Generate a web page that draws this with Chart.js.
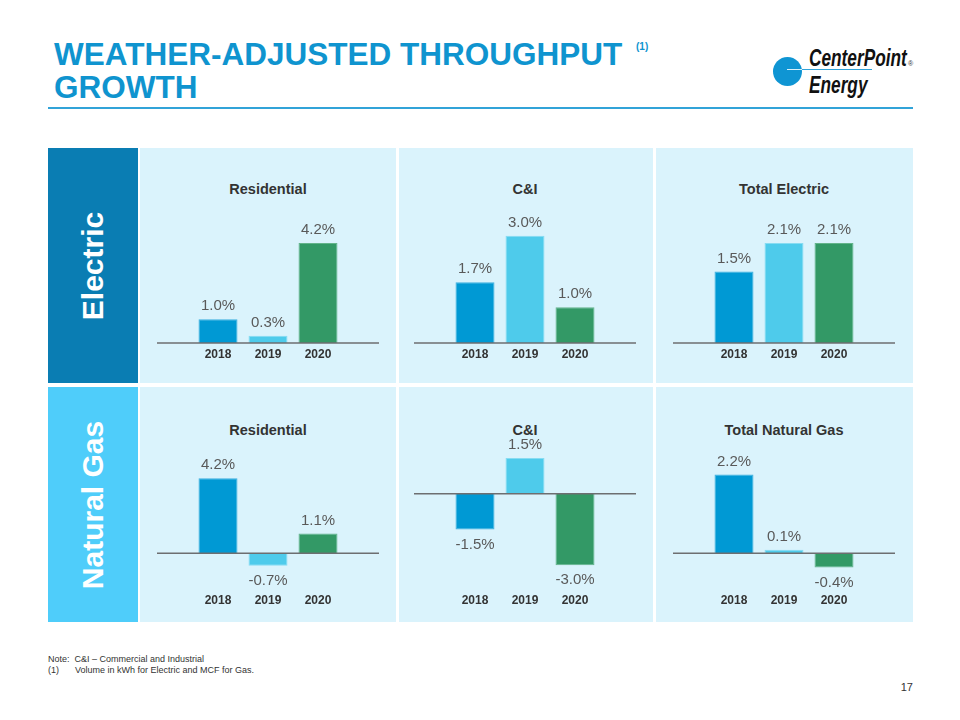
<!DOCTYPE html>
<html>
<head>
<meta charset="utf-8">
<script src="https://cdn.jsdelivr.net/npm/chart.js@4.4.0/dist/chart.umd.min.js"></script>
<style>
  body { margin: 0; width: 960px; height: 720px; background: #fff; position: relative; overflow: hidden;
         font-family: "Liberation Sans", Arial, sans-serif; }
  .abs { position: absolute; }
  .title { left: 54px; top: 38px; font-size: 31.5px; line-height: 33px; font-weight: bold; color: #0f94cf; white-space: nowrap; }
  .sup { left: 636px; top: 41px; font-size: 10px; font-weight: bold; color: #0f94cf; }
  .rule { left: 48px; top: 107px; width: 865px; height: 2px; background: #31a3d8; }
  .logo-text { left: 809px; font-size: 23px; line-height: 23px; font-weight: bold; font-style: italic; color: #111;
               transform: scaleX(0.75); transform-origin: left top; white-space: nowrap; }
  .rowlab { left: 48px; width: 90px; height: 235px; }
  .rowlab span { position: absolute; left: 50%; top: 50%; transform: translate(-50%, -50%) rotate(-90deg);
                 color: #fff; font-weight: bold; font-size: 30px; white-space: nowrap; }
  .panel { background: #daf3fc; height: 235px; }
  .ptitle { font-size: 14.5px; font-weight: bold; color: #333; text-align: center; width: 256px; z-index: 2; }
  canvas.chart { position: absolute; z-index: 3; }
  .note { left: 48px; font-size: 9px; color: #333; white-space: nowrap; }
</style>
</head>
<body>
<div class="abs title">WEATHER-ADJUSTED THROUGHPUT<br>GROWTH</div>
<div class="abs sup">(1)</div>
<div class="abs rule"></div>

<!-- logo -->
<div class="abs" style="left:773px;top:57px;width:29px;height:29px;border-radius:50%;background:#0f95d3;"></div>
<div class="abs" style="left:787px;top:69px;width:85px;height:1px;background:linear-gradient(to right,#d8f1fb 0,#d8f1fb 15px,#2fa2d8 15px);"></div>
<div class="abs logo-text" style="top:47px;">CenterPoint</div>
<div class="abs" style="left:908px;top:60px;font-size:7px;color:#333;">®</div>
<div class="abs logo-text" style="top:74px;">Energy</div>

<!-- row labels -->
<div class="abs rowlab" style="top:148px;background:#0a7db3;"><span>Electric</span></div>
<div class="abs rowlab" style="top:387px;background:#4fcdfa;"><span>Natural Gas</span></div>

<!-- panels -->
<div class="abs panel" style="left:140px;top:148px;width:256px;"></div>
<div class="abs panel" style="left:399px;top:148px;width:254px;"></div>
<div class="abs panel" style="left:656px;top:148px;width:257px;"></div>
<div class="abs panel" style="left:140px;top:387px;width:256px;"></div>
<div class="abs panel" style="left:399px;top:387px;width:254px;"></div>
<div class="abs panel" style="left:656px;top:387px;width:257px;"></div>

<div id="charts"></div>

<div class="abs note" style="top:654px;">Note:&nbsp; C&amp;I – Commercial and Industrial</div>
<div class="abs note" style="top:665px;">(1)<span style="padding-left:16px;">Volume in kWh for Electric and MCF for Gas.</span></div>
<div class="abs" style="right:47px;top:681px;font-size:11px;color:#333;">17</div>

<script>
const years = ['2018', '2019', '2020'];
const chartTitles = ['Residential', 'C&I', 'Total Electric', 'Residential', 'C&I', 'Total Natural Gas'];
const electricResidential = [1.0, 0.3, 4.2];
const electricCI = [1.7, 3.0, 1.0];
const electricTotal = [1.5, 2.1, 2.1];
const gasResidential = [4.2, -0.7, 1.1];
const gasCI = [-1.5, 1.5, -3.0];
const gasTotal = [2.2, 0.1, -0.4];
const yMins = [0, 0, 0, -2, -4, -1];
const yMaxs = [6, 4, 3, 6, 2, 3];

const seriesList = [electricResidential, electricCI, electricTotal, gasResidential, gasCI, gasTotal];
const barColors = ['#0099d4', '#4ecbeb', '#339966'];
const barBorders = ['#3db0df', '#86dcf2', '#63b48a'];

// panel geometry (page px)
const colCenters = [268, 525, 784];
const rowChartTop = [180, 425.5];   // canvas top, chart area starts 20px lower
const rowTitleTop = [181, 422];

// zero line, a bit wider than the bars
const zeroLine = {
    id: 'zeroLine',
    afterDatasetsDraw(chart) {
        const { ctx, chartArea, scales } = chart;
        const y = scales.y.getPixelForValue(0);
        ctx.save();
        ctx.strokeStyle = '#6d6e70';
        ctx.lineWidth = 1.5;
        ctx.beginPath();
        ctx.moveTo(chartArea.left - 36, y);
        ctx.lineTo(chartArea.right + 36, y);
        ctx.stroke();
        ctx.restore();
    }
};

// value labels above / below the bars
const valueLabels = {
    id: 'valueLabels',
    afterDatasetsDraw(chart) {
        const { ctx } = chart;
        const meta = chart.getDatasetMeta(0);
        const values = chart.data.datasets[0].data;
        ctx.save();
        ctx.font = '15px "Liberation Sans", Arial, sans-serif';
        ctx.fillStyle = '#595959';
        ctx.textAlign = 'center';
        ctx.textBaseline = 'middle';
        meta.data.forEach((bar, i) => {
            const v = values[i];
            const y = v >= 0 ? bar.y - 13 : bar.y + 15;
            ctx.fillText(v.toFixed(1) + '%', bar.x, y);
        });
        ctx.restore();
    }
};

const holder = document.getElementById('charts');
seriesList.forEach((values, i) => {
    const row = Math.floor(i / 3), col = i % 3;

    const t = document.createElement('div');
    t.className = 'abs ptitle';
    t.style.left = (colCenters[col] - 128) + 'px';
    t.style.top = rowTitleTop[row] + 'px';
    t.textContent = chartTitles[i];
    document.body.appendChild(t);

    const c = document.createElement('canvas');
    c.className = 'chart';
    c.width = 224;
    c.height = 187;
    c.style.left = (colCenters[col] - 112) + 'px';
    c.style.top = rowChartTop[row] + 'px';
    holder.appendChild(c);

    new Chart(c.getContext('2d'), {
        type: 'bar',
        data: {
            labels: years,
            datasets: [{
                data: values,
                backgroundColor: barColors,
                borderColor: barBorders,
                borderWidth: 1,
                barPercentage: 0.78,
                categoryPercentage: 1
            }]
        },
        options: {
            responsive: false,
            animation: false,
            layout: { padding: { top: 20, left: 37, right: 37, bottom: 0 } },
            plugins: { legend: { display: false }, tooltip: { enabled: false } },
            scales: {
                x: {
                    grid: { display: false, drawTicks: false },
                    border: { display: false },
                    ticks: {
                        color: '#333',
                        padding: 4,
                        font: { family: '"Liberation Sans", Arial, sans-serif', size: 12, weight: 'bold' }
                    },
                    afterFit(scale) { scale.height = 24; }
                },
                y: {
                    display: false,
                    min: yMins[i],
                    max: yMaxs[i]
                }
            }
        },
        plugins: [zeroLine, valueLabels]
    });
});
</script>
</body>
</html>
